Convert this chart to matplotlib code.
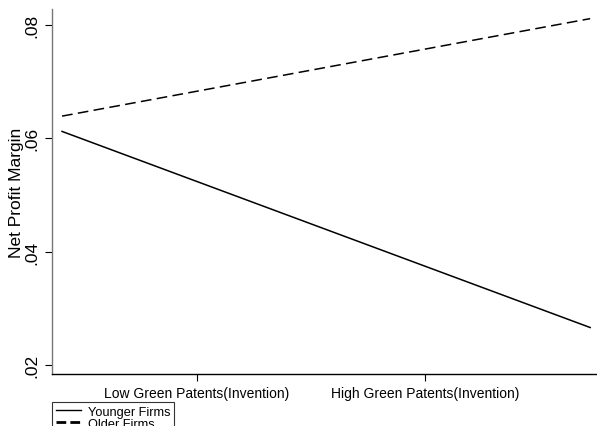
import matplotlib
matplotlib.use("Agg")
import matplotlib.pyplot as plt
import numpy as np

plt.rcParams['font.family'] = ['Liberation Sans', 'DejaVu Sans']

# x positions: 0 = low green patents, 1 = high green patents
x_ends = np.array([-0.592, 1.724])
younger = np.array([0.0612, 0.0266])
older = np.array([0.0639, 0.0811])
xtick_pos = [0, 1]
xtick_labels = ['Low Green Patents(Invention)', 'High Green Patents(Invention)']
ytick_pos = [0.02, 0.04, 0.06, 0.08]
ytick_labels = ['.02', '.04', '.06', '.08']

fig = plt.figure(figsize=(5.97, 4.27), dpi=100)
ax = fig.add_axes([52/597, 1-375/427, 545/597, 365/427])

l1, = ax.plot(x_ends, younger, color='black', lw=1.1, ls='-')
l2, = ax.plot(x_ends, older, color='black', lw=1.1, ls=(0, (7, 3.5)))

ax.set_xlim(-0.636, 1.754)
ax.set_ylim(0.0184, 0.0828)
ax.set_xticks(xtick_pos)
ax.set_xticklabels(xtick_labels, fontsize=10)
ax.set_yticks(ytick_pos)
ax.set_yticklabels(ytick_labels, fontsize=12.5, rotation=90, va='center')
ax.set_ylabel('Net Profit Margin', fontsize=12.5, labelpad=0)

ax.spines['top'].set_visible(False)
ax.spines['right'].set_visible(False)
ax.spines['left'].set_color('#777777')
ax.spines['left'].set_linewidth(1.0)
ax.spines['bottom'].set_linewidth(1.0)
ax.tick_params(axis='both', direction='out', length=5, width=0.8, pad=4)

# legend handles: thin solid, thicker dashes as in the original
h1, = ax.plot([], [], color='black', lw=1.0, ls='-')
h2, = ax.plot([], [], color='black', lw=2.0, ls=(0, (3.5, 1.5)))
leg = fig.legend([h1, h2], ['Younger Firms', 'Older Firms'],
                 loc='upper left', bbox_to_anchor=(52/597, 1-403/427),
                 fontsize=9.2, frameon=True, fancybox=False, handlelength=2.0,
                 borderpad=0.3, labelspacing=0.0, handletextpad=0.5,
                 borderaxespad=0)
leg.get_frame().set_edgecolor('black')
leg.get_frame().set_linewidth(0.8)

fig.savefig('out.png', dpi=100)
